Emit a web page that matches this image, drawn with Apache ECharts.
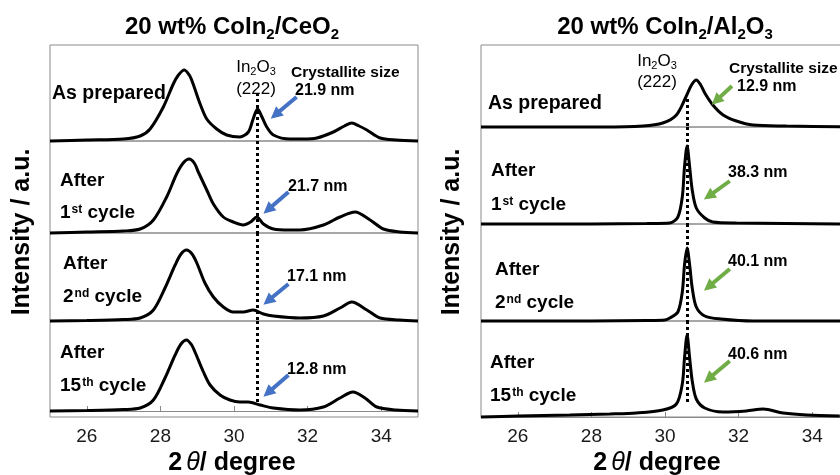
<!DOCTYPE html>
<html><head><meta charset="utf-8">
<script src="https://cdn.jsdelivr.net/npm/echarts@6/dist/echarts.min.js"></script>
<style>html,body{margin:0;padding:0;background:#fff}#c{width:840px;height:475px}</style>
</head><body><div id="c"></div>
<script>
// ---------------- data ----------------
const xTicks = [26, 28, 30, 32, 34];

// 20 wt% CoIn2/CeO2 — [2theta, intensity (a.u.)]
const ceo2AsPrepared = [[25.0,0],[26.0,1],[27.0,2],[27.45,5],[27.72,12],[28.08,34],[28.35,57],[28.49,66],[28.65,71],[28.8,65],[28.89,57],[29.08,37],[29.26,22],[29.53,12],[29.80,6],[30.16,4],[30.39,9],[30.52,22],[30.64,32],[30.76,24],[30.89,14],[31.07,6],[31.52,2],[31.9,2],[32.25,3],[32.70,9],[33.0,15],[33.20,18],[33.4,15],[33.61,11],[33.97,3],[34.4,1],[35.0,0]];
const ceo2After1 = [[25,0],[26,1],[27,2],[27.45,4],[27.81,13],[28.17,36],[28.44,59],[28.62,70],[28.78,74],[28.92,70],[29.03,61],[29.26,43],[29.44,29],[29.71,16],[29.98,11],[30.25,8],[30.45,11],[30.62,16],[30.80,9],[31.07,4],[31.5,3],[31.79,3],[32.43,8],[32.88,16],[33.29,21],[33.70,13],[34.06,4],[34.5,1],[35,0]];
const ceo2After2 = [[25,0],[26,0.5],[27,1.5],[27.45,3],[27.81,11],[28.125,33],[28.40,56],[28.56,67],[28.71,71],[28.86,67],[28.99,58],[29.21,38],[29.44,24],[29.71,14],[29.98,9],[30.25,9],[30.52,11],[30.80,7],[31.07,5],[31.79,3],[32.43,5],[32.88,13],[33.20,19],[33.61,11],[33.97,3],[34.5,1],[35,0]];
const ceo2After15 = [[25,0],[26,0.5],[27,1.5],[27.45,3],[27.81,11],[28.125,33],[28.40,56],[28.56,67],[28.71,71],[28.85,66],[28.94,59],[29.17,39],[29.35,26],[29.62,16],[29.89,11],[30.16,9],[30.39,9],[30.71,6],[31.07,3],[31.79,1],[32.43,4],[32.88,13],[33.23,19],[33.56,13],[33.88,4],[34.4,1],[35,0]];

// 20 wt% CoIn2/Al2O3
const al2o3AsPrepared = [[25,0],[27,0],[28.31,0],[29.40,1],[29.94,4],[30.31,12],[30.58,31],[30.72,42],[30.85,47],[30.97,42],[31.08,34],[31.30,22],[31.58,12],[31.94,6],[32.39,2],[33.30,1],[35,0]];
const al2o3After1 = [[25,0],[28,0],[29.5,0.5],[30.13,1],[30.35,7],[30.47,27],[30.53,57],[30.60,78],[30.67,57],[30.74,34],[30.85,16],[31.08,6],[31.30,2],[31.94,1],[35,0]];
const al2o3After2 = [[25,0],[28,0],[29.5,0.5],[30.0,1],[30.13,3],[30.35,9],[30.47,29],[30.53,56],[30.60,73],[30.67,56],[30.74,33],[30.85,14],[31.08,5],[31.52,2],[32.4,0],[35,0]];
const al2o3After15 = [[25,0],[26,1],[27.41,2],[28.5,3],[29.22,4],[29.94,7],[30.31,13],[30.47,33],[30.53,59],[30.60,82],[30.67,59],[30.74,36],[30.85,18],[31.08,9],[31.58,5],[32.21,6],[32.67,8],[33.21,4],[33.85,2],[34.75,1]];

const in2o3PeakCeO2 = 30.62;
const in2o3PeakAl2O3 = 30.60;
const ceo2Sizes = ['21.9 nm', '21.7 nm', '17.1 nm', '12.8 nm'];
const al2o3Sizes = ['12.9 nm', '38.3 nm', '40.1 nm', '40.6 nm'];
const sampleNames = [['As prepared'], ['After', '{b|1}{sup|st}{b| cycle}'], ['After', '{b|2}{sup|nd}{b| cycle}'], ['After', '{b|15}{sup|th}{b| cycle}']];
const panelTitles = ['{b|20 wt% CoIn}{sub|2}{b|/CeO}{sub|2}', '{b|20 wt% CoIn}{sub|2}{b|/Al}{sub|2}{b|O}{sub|3}'];

// ---------------- layout / style ----------------
const FONT = "'Liberation Sans', Arial, Helvetica, sans-serif";
const panels = [
  { left: 50, width: 368, tops: [45, 141, 233, 321], bottoms: [141, 233, 321, 417], yMin: [0, 0, 0, -6],
    traces: [ceo2AsPrepared, ceo2After1, ceo2After2, ceo2After15], peak: in2o3PeakCeO2,
    dotStart: 48, dotEnd: 8, color: '#4472C4',
    arrows: [[[31.70, 44], [31.02, 23]], [[31.48, 41], [30.82, 20]], [[31.48, 37], [30.82, 17]], [[31.48, 36], [30.82, 15]]] },
  { left: 481, width: 368, tops: [45, 127, 224, 321], bottoms: [127, 224, 321, 417], yMin: [0, 0, 0, 0],
    traces: [al2o3AsPrepared, al2o3After1, al2o3After2, al2o3After15], peak: in2o3PeakAl2O3,
    dotStart: 28, dotEnd: 12, color: '#70AD47',
    arrows: [[[31.82, 41], [31.29, 23]], [[31.76, 43], [31.08, 25]], [[31.76, 52], [31.08, 31]], [[31.76, 56], [31.08, 35]]] }
];

function richStyles(F, weight) {
  const S = Math.round(F * 0.62);
  return {
    b: { fontSize: F, fontWeight: weight, fontFamily: FONT, verticalAlign: 'top', lineHeight: F },
    it: { fontSize: F, fontStyle: 'italic', fontWeight: 'normal', fontFamily: FONT, verticalAlign: 'top', lineHeight: F, padding: [0, 0, 0, 4] },
    sub: { fontSize: S, fontWeight: weight, fontFamily: FONT, verticalAlign: 'top', lineHeight: S, padding: [Math.round(1.02 * F - 0.85 * S), 0, 0, 0] },
    sup: { fontSize: S, fontWeight: weight, fontFamily: FONT, verticalAlign: 'top', lineHeight: S, padding: [0, 0, 0, 1] }
  };
}
function txt(x, y, text, F, weight, align, rotation) {
  if (text.indexOf('{') < 0) text = '{b|' + text + '}';
  return { type: 'text', x: x, y: y, rotation: rotation || 0, silent: true, z: 10,
    style: { text: text, rich: richStyles(F, weight), fill: '#000', fontSize: F, fontWeight: weight,
      fontFamily: FONT, align: align || 'left', verticalAlign: 'middle' } };
}
function pullBack(seg, pxPerDeg, px) {
  const a = seg[0], b = seg[1];
  const dx = (b[0] - a[0]) * pxPerDeg, dy = b[1] - a[1];
  const len = Math.hypot(dx, dy), k = (len - px) / len;
  return [a, [a[0] + (b[0] - a[0]) * k, a[1] + (b[1] - a[1]) * k]];
}

const grid = [], xAxis = [], yAxis = [], series = [];
panels.forEach(function (p) {
  const pxPerDeg = p.width / 10;
  for (let i = 0; i < 4; i++) {
    const gi = grid.length;
    const h = p.bottoms[i] - p.tops[i];
    const yMax = p.yMin[i] + h;
    const isBottom = i === 3;
    grid.push({ left: p.left, top: p.tops[i], width: p.width, height: h, show: true,
      borderColor: '#8a8a8a', borderWidth: 1, backgroundColor: 'transparent', outerBoundsMode: 'none' });
    xAxis.push({ type: 'value', gridIndex: gi, min: 25, max: 35, show: isBottom,
      axisLine: { show: true, lineStyle: { color: '#8a8a8a', width: 1 } },
      axisTick: { show: true, inside: true, length: 5, customValues: xTicks, lineStyle: { color: '#8a8a8a' } },
      axisLabel: { show: true, customValues: xTicks, fontSize: 19, color: '#1a1a1a', fontFamily: FONT, margin: 10 },
      splitLine: { show: false } });
    yAxis.push({ type: 'value', gridIndex: gi, min: p.yMin[i], max: yMax, show: false, splitLine: { show: false } });
    series.push({ type: 'line', xAxisIndex: gi, yAxisIndex: gi, data: p.traces[i], showSymbol: false, symbol: 'none',
      smooth: 0.3, clip: false, silent: true, z: 3, lineStyle: { color: '#000', width: 3 } });
    const y1 = i === 0 ? p.dotStart : yMax;
    const y2 = i === 3 ? p.dotEnd : p.yMin[i];
    series.push({ type: 'lines', coordinateSystem: 'cartesian2d', xAxisIndex: gi, yAxisIndex: gi, silent: true, z: 2,
      symbol: 'none', lineStyle: { color: '#000', width: 3, type: [3, 3], opacity: 1, curveness: 0 },
      data: [{ coords: [[p.peak, y1], [p.peak, y2]] }] });
    series.push({ type: 'lines', coordinateSystem: 'cartesian2d', xAxisIndex: gi, yAxisIndex: gi, silent: true, z: 4,
      symbol: ['none', 'triangle'], symbolSize: 12,
      lineStyle: { color: p.color, width: 4, opacity: 1, curveness: 0 },
      itemStyle: { color: p.color },
      data: [{ coords: pullBack(p.arrows[i], pxPerDeg, 5) }] });
  }
});

const graphic = [
  // titles
  txt(232, 27, panelTitles[0], 24, 'bold', 'center'),
  txt(665, 27, panelTitles[1], 24, 'bold', 'center'),
  // y-axis titles
  txt(22, 232, 'Intensity / a.u.', 25, 'bold', 'center', Math.PI / 2),
  txt(452, 232, 'Intensity / a.u.', 25, 'bold', 'center', Math.PI / 2),
  // x-axis titles
  txt(232, 463, '{b|2}{it|θ}{b|/ degree}', 25, 'bold', 'center'),
  txt(657, 463, '{b|2}{it|θ}{b|/ degree}', 25, 'bold', 'center'),
  // In2O3 (222)
  txt(256, 67, '{b|In}{sub|2}{b|O}{sub|3}', 17, 'normal', 'center'),
  txt(256, 89, '(222)', 17, 'normal', 'center'),
  txt(657, 61, '{b|In}{sub|2}{b|O}{sub|3}', 17, 'normal', 'center'),
  txt(657, 82, '(222)', 17, 'normal', 'center'),
  txt(291, 72, 'Crystallite size', 15.5, 'bold'),
  txt(729, 68, 'Crystallite size', 15.5, 'bold'),
  // left sample names
  txt(52, 93, sampleNames[0][0], 19.5, 'bold'),
  txt(60, 181, sampleNames[1][0], 19, 'bold'), txt(60, 213, sampleNames[1][1], 19, 'bold'),
  txt(63, 264, sampleNames[2][0], 19, 'bold'), txt(63, 297, sampleNames[2][1], 19, 'bold'),
  txt(60, 353, sampleNames[3][0], 19, 'bold'), txt(60, 386, sampleNames[3][1], 19, 'bold'),
  // right sample names
  txt(488, 103, sampleNames[0][0], 19.5, 'bold'),
  txt(491, 171, sampleNames[1][0], 19, 'bold'), txt(491, 205, sampleNames[1][1], 19, 'bold'),
  txt(495, 270, sampleNames[2][0], 19, 'bold'), txt(495, 303, sampleNames[2][1], 19, 'bold'),
  txt(490, 363, sampleNames[3][0], 19, 'bold'), txt(490, 396, sampleNames[3][1], 19, 'bold'),
  // crystallite sizes
  txt(295, 91, ceo2Sizes[0], 16, 'bold'), txt(288, 187, ceo2Sizes[1], 16, 'bold'),
  txt(287, 277, ceo2Sizes[2], 16, 'bold'), txt(287, 370, ceo2Sizes[3], 16, 'bold'),
  txt(737, 87, al2o3Sizes[0], 16, 'bold'), txt(728, 173, al2o3Sizes[1], 16, 'bold'),
  txt(728, 262, al2o3Sizes[2], 16, 'bold'), txt(728, 355, al2o3Sizes[3], 16, 'bold')
];

const chart = echarts.init(document.getElementById('c'), null, { renderer: 'canvas' });
chart.setOption({ backgroundColor: '#fff', animation: false, grid: grid, xAxis: xAxis, yAxis: yAxis, series: series, graphic: graphic });
</script></body></html>
